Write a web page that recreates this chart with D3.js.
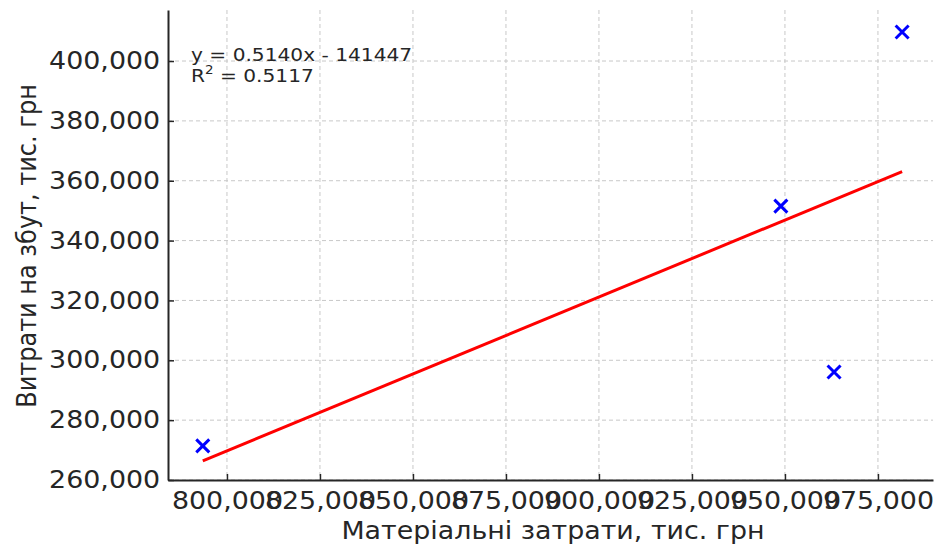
<!DOCTYPE html>
<html>
<head>
<meta charset="utf-8">
<script src="https://cdn.jsdelivr.net/npm/d3@7/dist/d3.min.js"></script>
<style>
  html, body { margin: 0; padding: 0; background: #fff; }
  svg text { font-family: "DejaVu Sans", sans-serif; fill: #262626; }
</style>
</head>
<body>
<svg id="chart" width="935" height="544"></svg>
<script>
// Observations: material costs vs. selling expenses (thousand UAH)
const materialCosts = [793500, 948900, 963200, 981500];
const sellingCosts  = [271400, 351500, 296100, 409700];

// Fitted trend line, as stated in the annotation
const slope = 0.5140;
const intercept = -141447;
const rSquared = 0.5117;

const xTicks = [800000, 825000, 850000, 875000, 900000, 925000, 950000, 975000];
const yTicks = [260000, 280000, 300000, 320000, 340000, 360000, 380000, 400000];

const xLabel = "Матеріальні затрати, тис. грн";
const yLabel = "Витрати на збут, тис. грн";

const svg = d3.select("#chart");
const plotL = 168, plotR = 933, plotT = 10, plotB = 480;
const stretch = 1.12;   // wide glyph aspect used for all text

const x = d3.scaleLinear().domain([784150, 989800]).range([plotL, plotR]);
const y = d3.scaleLinear().domain([260000, 417050]).range([plotB, plotT]);
const fmt = d3.format(",");

// Grid
const grid = svg.append("g").attr("stroke", "#c8c8c8").attr("stroke-width", 1)
  .attr("stroke-dasharray", "4,3");
grid.selectAll(".gx").data(xTicks).join("line")
  .attr("x1", d => x(d)).attr("x2", d => x(d))
  .attr("y1", plotT).attr("y2", plotB);
grid.selectAll(".gy").data(yTicks).join("line")
  .attr("x1", plotL).attr("x2", plotR)
  .attr("y1", d => y(d)).attr("y2", d => y(d));

// Axes
const xAxis = d3.axisBottom(x).tickValues(xTicks).tickFormat(fmt).tickSizeInner(-6).tickSizeOuter(0).tickPadding(12);
const yAxis = d3.axisLeft(y).tickValues(yTicks).tickFormat(fmt).tickSizeInner(-6).tickSizeOuter(0).tickPadding(7);

const gx = svg.append("g").attr("transform", `translate(0,${plotB})`).call(xAxis);
const gy = svg.append("g").attr("transform", `translate(${plotL},0)`).call(yAxis);
[gx, gy].forEach(g => {
  g.select(".domain").attr("stroke", "#262626").attr("stroke-width", 2);
  g.selectAll(".tick line").attr("stroke", "#262626").attr("stroke-width", 1.5);
  g.selectAll(".tick text").attr("font-size", 24).attr("font-family", "DejaVu Sans")
    .attr("fill", "#262626").attr("transform", `scale(${stretch},1)`);
});

// Axis titles
svg.append("text").attr("transform", `translate(553,539) scale(${stretch},1)`)
  .attr("text-anchor", "middle").attr("font-size", 24).text(xLabel);
svg.append("text").attr("transform", `translate(36,246) scale(${stretch},1) rotate(-90)`)
  .attr("text-anchor", "middle").attr("font-size", 24).text(yLabel);

// Regression line
const xr = d3.extent(materialCosts);
svg.append("line")
  .attr("x1", x(xr[0])).attr("y1", y(slope * xr[0] + intercept))
  .attr("x2", x(xr[1])).attr("y2", y(slope * xr[1] + intercept))
  .attr("stroke", "#ff0000").attr("stroke-width", 3);

// Scatter markers
const s = 6.5;
const pts = svg.append("g").attr("stroke", "#0000ff").attr("stroke-width", 3);
materialCosts.forEach((mx, i) => {
  const cx = x(mx), cy = y(sellingCosts[i]);
  pts.append("path").attr("d", `M${cx - s},${cy - s}L${cx + s},${cy + s}M${cx - s},${cy + s}L${cx + s},${cy - s}`);
});

// Equation annotation
const ann = svg.append("g").attr("font-size", 18);
ann.append("text").attr("transform", `translate(191,61) scale(${stretch},1)`)
  .text(`y = ${slope.toFixed(4)}x - ${Math.abs(intercept)}`);
const r2 = ann.append("text").attr("transform", `translate(191,82) scale(${stretch},1)`);
r2.append("tspan").text("R");
r2.append("tspan").attr("font-size", 12).attr("dy", -8).text("2");
r2.append("tspan").attr("dy", 8).text(` = ${rSquared.toFixed(4)}`);
</script>
</body>
</html>
